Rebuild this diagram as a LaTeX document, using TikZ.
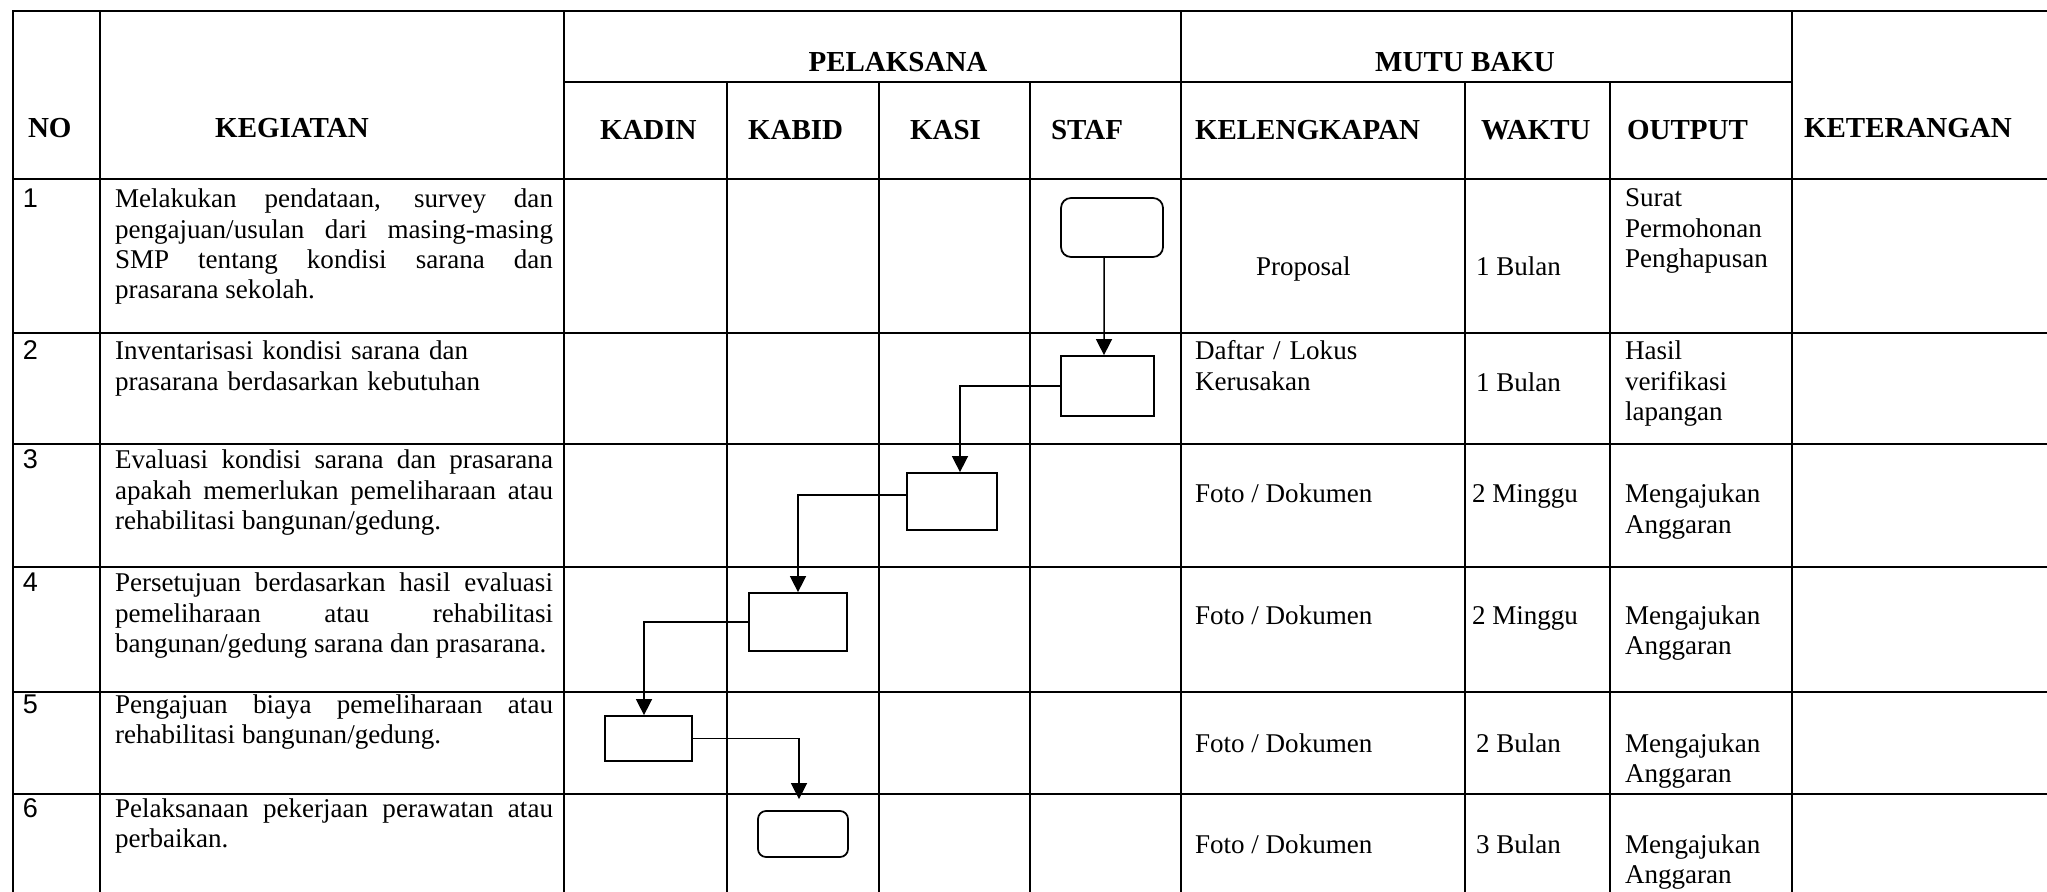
\documentclass[tikz,border=0pt]{standalone}
\usepackage{fontspec}
\setmainfont{Liberation Serif}
\newfontfamily\arial{Liberation Sans}
\usetikzlibrary{arrows.meta}
\tikzset{
  sel/.style = {inner sep=0pt, outer sep=0pt,
    font=\fontsize{15.4}{17.1}\selectfont},% isi sel tabel
  isi/.style = {sel, anchor=base west},
  isi_b/.style = {isi, text width=32mm, align=left},% isi beberapa baris
  judul/.style = {sel, anchor=base, font=\fontsize{16.5}{18}\selectfont\bfseries},
  judul_k/.style = {judul, anchor=base west},
  nomor/.style = {isi, font=\arial\fontsize{15.4}{17.1}\selectfont},
  teks/.style = {isi, text width=87.6mm, align=justify,
    execute at begin node={\tolerance=10000\hbadness=10000
      \hyphenpenalty=10000\exhyphenpenalty=10000}},% kolom kegiatan
  garis/.style = {line width=0.5mm, line cap=rect},% garis tabel
  kotak/.style = {draw, line width=0.35mm, rectangle, inner sep=0pt},% proses
  kotak_r/.style = {kotak, rounded corners=2mm},% awal / akhir
  panah/.style = {line width=0.3mm, -{Triangle[length=3.2mm, width=3.2mm]}}
}
\begin{document}
\begin{tikzpicture}[x=0.2mm, y=-0.2mm]
  \useasboundingbox (0,0) rectangle (2047,892);
  % garis tabel
  \foreach \x in {13,100,564,1181,1792}
    \draw [garis] (\x,11) -- (\x,892);
  \foreach \x in {727,879,1030,1465,1610}
    \draw [garis] (\x,82) -- (\x,892);
  \foreach \y in {11,179,333,444,567,692,794}
    \draw [garis] (13,\y) -- (2047,\y);
  \draw [garis] (564,82) -- (1792,82);

  % kepala tabel
  \node [judul] (pel) at (898,72) {PELAKSANA};
  \node [judul] (mutu) at (1465,72) {MUTU BAKU};
  \node [judul_k] (hno) at (28,138) {NO};
  \node [judul] (hkeg) at (292,138) {KEGIATAN};
  \node [judul_k] (hkadin) at (600,140) {KADIN};
  \node [judul_k] (hkabid) at (748,140) {KABID};
  \node [judul_k] (hkasi) at (910,140) {KASI};
  \node [judul_k] (hstaf) at (1051,140) {STAF};
  \node [judul_k] (hkel) at (1195,140) {KELENGKAPAN};
  \node [judul_k] (hwkt) at (1481,140) {WAKTU};
  \node [judul_k] (hout) at (1627,140) {OUTPUT};
  \node [judul_k] (hket) at (1804,138) {KETERANGAN};

  % nomor dan kegiatan
  \node [nomor] (n1) at (23,208) {1};
  \node [teks] (k1) at (115,208) {Melakukan pendataan, survey dan\linebreak
    pengajuan/usulan dari masing-masing\linebreak
    SMP tentang kondisi sarana dan\linebreak prasarana sekolah.};
  \node [nomor] (n2) at (23,360) {2};
  \node [teks, align=left] (k2) at (115,360) {Inventarisasi kondisi sarana dan\\
    prasarana berdasarkan kebutuhan};
  \node [nomor] (n3) at (23,469) {3};
  \node [teks] (k3) at (115,469) {Evaluasi kondisi sarana dan prasarana\linebreak
    apakah memerlukan pemeliharaan atau\linebreak rehabilitasi bangunan/gedung.};
  \node [nomor] (n4) at (23,592) {4};
  \node [teks] (k4) at (115,592) {Persetujuan berdasarkan hasil evaluasi\linebreak
    pemeliharaan atau rehabilitasi\linebreak bangunan/gedung sarana dan prasarana.};
  \node [nomor] (n5) at (23,713) {5};
  \node [teks] (k5) at (115,713) {Pengajuan biaya pemeliharaan atau\linebreak
    rehabilitasi bangunan/gedung.};
  \node [nomor] (n6) at (23,817) {6};
  \node [teks] (k6) at (115,817) {Pelaksanaan pekerjaan perawatan atau\linebreak
    perbaikan.};

  % mutu baku
  \node [isi] (l1) at (1256,276) {Proposal};
  \node [isi_b, text width=52mm] (l2) at (1195,360) {Daftar / Lokus\\ Kerusakan};
  \node [isi] (l3) at (1195,503) {Foto / Dokumen};
  \node [isi] (l4) at (1195,624) {Foto / Dokumen};
  \node [isi] (l5) at (1195,752) {Foto / Dokumen};
  \node [isi] (l6) at (1195,853) {Foto / Dokumen};
  \node [isi] (w1) at (1476,276) {1 Bulan};
  \node [isi] (w2) at (1476,392) {1 Bulan};
  \node [isi] (w3) at (1472,503) {2 Minggu};
  \node [isi] (w4) at (1472,624) {2 Minggu};
  \node [isi] (w5) at (1476,752) {2 Bulan};
  \node [isi] (w6) at (1476,853) {3 Bulan};
  \node [isi_b] (o1) at (1625,207) {Surat\\ Permohonan\\ Penghapusan};
  \node [isi_b] (o2) at (1625,360) {Hasil\\ verifikasi\\ lapangan};
  \node [isi_b] (o3) at (1625,503) {Mengajukan\\ Anggaran};
  \node [isi_b] (o4) at (1625,624) {Mengajukan\\ Anggaran};
  \node [isi_b] (o5) at (1625,752) {Mengajukan\\ Anggaran};
  \node [isi_b] (o6) at (1625,853) {Mengajukan\\ Anggaran};

  % bagan alur
  \node [kotak_r, minimum width=20.4mm, minimum height=11.8mm] (s1) at (1112,227.5) {};
  \node [kotak, minimum width=18.6mm, minimum height=12mm] (s2) at (1107.5,386) {};
  \node [kotak, minimum width=18mm, minimum height=11.4mm] (s3) at (952,501.5) {};
  \node [kotak, minimum width=19.6mm, minimum height=11.6mm] (s4) at (798,622) {};
  \node [kotak, minimum width=17.4mm, minimum height=9mm] (s5) at (648.5,738.5) {};
  \node [kotak_r, rounded corners=1.6mm, minimum width=18mm, minimum height=9.2mm] (s6) at (803,834) {};

  \draw [panah] ([xshift=-1.6mm]s1.south) -- ([xshift=-0.7mm]s2.north);
  \draw [panah] (s2.west) -| ([xshift=1.6mm]s3.north);
  \draw [panah] ([yshift=1.3mm]s3.west) -| (s4.north);
  \draw [panah] (s4.west) -| ([xshift=-0.9mm]s5.north);
  \draw [panah, shorten >=2.2mm] (s5.east) -| ([xshift=-0.8mm]s6.north);
\end{tikzpicture}
\end{document}
